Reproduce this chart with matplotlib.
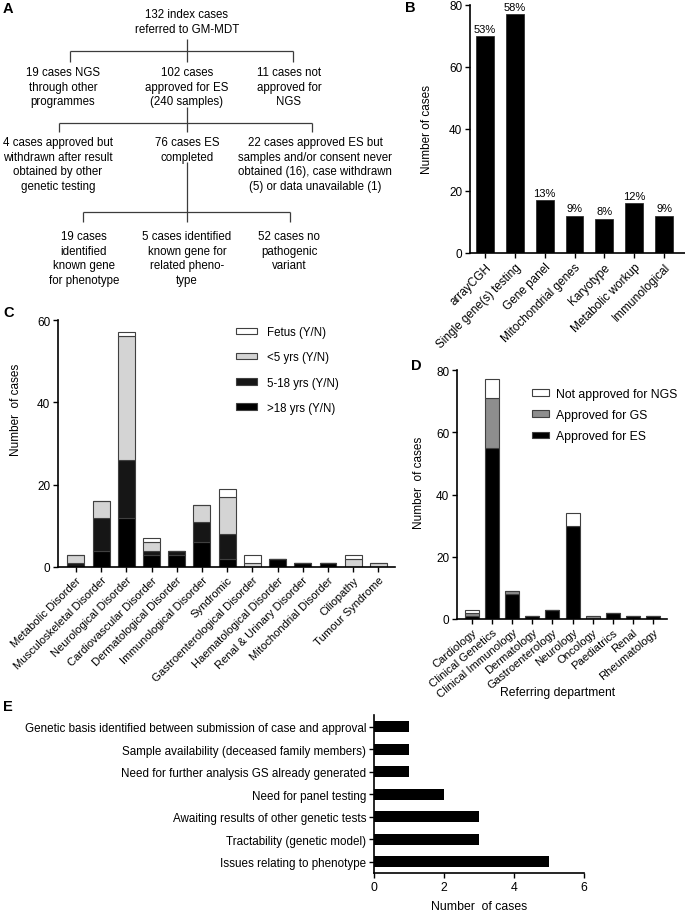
import matplotlib

matplotlib.use("Agg")

import matplotlib.pyplot as plt
import numpy as np

plt.rcParams["font.family"] = ["Liberation Sans", "DejaVu Sans"]
plt.rcParams["font.size"] = 8
plt.rcParams["axes.linewidth"] = 1.2
plt.rcParams["xtick.major.width"] = 1.0
plt.rcParams["ytick.major.width"] = 1.0
plt.rcParams["xtick.major.size"] = 3.5
plt.rcParams["ytick.major.size"] = 3.5

W, H = 685, 912

# B: previous genetic testing
prior_tests = ["arrayCGH", "Single gene(s) testing", "Gene panel", "Mitochondrial genes",
               "Karyotype", "Metabolic workup", "Immunological"]
prior_counts = [70, 77, 17, 12, 11, 16, 12]
prior_pct = ["53%", "58%", "13%", "9%", "8%", "12%", "9%"]

# C: disorder category by age group
disorders = ["Metabolic Disorder", "Musculoskeletal Disorder", "Neurological Disorder",
             "Cardiovascular Disorder", "Dermatological Disorder", "Immunological Disorder",
             "Syndromic", "Gastroenterological Disorder", "Haematological Disorder",
             "Renal & Urinary Disorder", "Mitochondrial Disorder", "Ciliopathy", "Tumour Syndrome"]
over18 = [0, 4, 12, 3, 3, 6, 2, 0, 2, 1, 1, 0, 0]
age5to18 = [1, 8, 14, 1, 1, 5, 6, 0, 0, 0, 0, 0, 0]
under5 = [2, 4, 30, 2, 0, 4, 9, 1, 0, 0, 0, 2, 1]
fetus = [0, 0, 1, 1, 0, 0, 2, 2, 0, 0, 0, 1, 0]

# D: referring department
departments = ["Cardiology", "Clinical Genetics", "Clinical Immunology", "Dermatology",
               "Gastroenterology", "Neurology", "Oncology", "Paediatrics", "Renal", "Rheumatology"]
approved_es = [1, 55, 8, 1, 3, 30, 0, 2, 1, 1]
approved_gs = [1, 16, 1, 0, 0, 0, 1, 0, 0, 0]
not_approved = [1, 6, 0, 0, 0, 4, 0, 0, 0, 0]

# E: reasons for not approving
reasons = ["Genetic basis identified between submission of case and approval",
           "Sample availability (deceased family members)",
           "Need for further analysis GS already generated",
           "Need for panel testing",
           "Awaiting results of other genetic tests",
           "Tractability (genetic model)",
           "Issues relating to phenotype"]
reason_counts = [1, 1, 1, 2, 3, 3, 5]


def rect(x0, y0, x1, y1):
    return [x0 / W, 1 - y1 / H, (x1 - x0) / W, (y1 - y0) / H]


def style(ax, xsize=8.5):
    ax.spines["top"].set_visible(False)
    ax.spines["right"].set_visible(False)
    ax.tick_params(axis="y", labelsize=8.5, pad=2)
    ax.tick_params(axis="x", labelsize=xsize, pad=2)


fig = plt.figure(figsize=(W / 100, H / 100), dpi=100)

# A: flowchart drawn in pixel coordinates
fa = fig.add_axes([0, 0, 1, 1])
fa.set_xlim(0, W)
fa.set_ylim(H, 0)
fa.axis("off")

lc = "#3c3c3c"


def seg(x0, y0, x1, y1):
    fa.plot([x0, x1], [y0, y1], color=lc, lw=0.9, solid_capstyle="butt")


def box(x, y, txt):
    fa.text(x, y, txt, ha="center", va="top", fontsize=8.3, linespacing=1.28)


box(187, 9, "132 index cases\nreferred to GM-MDT")
seg(187, 40, 187, 52)
seg(70, 52, 293, 52)
for xx in (70, 187, 293):
    seg(xx, 52, xx, 63)
box(63, 67, "19 cases NGS\nthrough other\nprogrammes")
box(187, 67, "102 cases\napproved for ES\n(240 samples)")
box(289, 67, "11 cases not\napproved for\nNGS")
seg(187, 108, 187, 124)
seg(59, 124, 312, 124)
for xx in (59, 187, 312):
    seg(xx, 124, xx, 133)
box(58, 137, "4 cases approved but\nwithdrawn after result\nobtained by other\ngenetic testing")
box(187, 137, "76 cases ES\ncompleted")
box(315, 137, "22 cases approved ES but\nsamples and/or consent never\nobtained (16), case withdrawn\n(5) or data unavailable (1)")
seg(187, 163, 187, 213)
seg(83, 213, 290, 213)
for xx in (83, 187, 290):
    seg(xx, 213, xx, 223)
box(84, 231, "19 cases\nidentified\nknown gene\nfor phenotype")
box(187, 231, "5 cases identified\nknown gene for\nrelated pheno-\ntype")
box(289, 231, "52 cases no\npathogenic\nvariant")

for lab, x, y in [("A", 3, 2), ("B", 405, 1), ("C", 3, 306), ("D", 411, 359), ("E", 3, 700)]:
    fa.text(x, y, lab, fontsize=10.5, fontweight="bold", va="top", ha="left")

# B
axb = fig.add_axes(rect(470, 6, 685, 254))
xb = np.arange(len(prior_tests))
axb.bar(xb, prior_counts, width=0.6, color="black", edgecolor="#303030", lw=0.6)
for x, v, p in zip(xb, prior_counts, prior_pct):
    axb.text(x, v + 0.8, p, ha="center", va="bottom", fontsize=8)
axb.set_xlim(-0.5, 6.7)
axb.set_ylim(0, 80)
axb.set_yticks([0, 20, 40, 60, 80])
axb.set_xticks(xb)
axb.set_xticklabels(prior_tests, rotation=45, ha="right", rotation_mode="anchor")
axb.set_ylabel("Number of cases", fontsize=8.5)
axb.yaxis.set_label_coords(-0.17, 0.5)
style(axb)

# C
axc = fig.add_axes(rect(58, 321, 395, 568))
xc = np.arange(len(disorders))
ec = "#404040"
b1 = np.array(over18)
b2 = b1 + np.array(age5to18)
b3 = b2 + np.array(under5)
axc.bar(xc, over18, width=0.67, color="#000000", edgecolor=ec, lw=0.8, label=">18 yrs (Y/N)")
axc.bar(xc, age5to18, bottom=b1, width=0.67, color="#161616", edgecolor=ec, lw=0.8, label="5-18 yrs (Y/N)")
axc.bar(xc, under5, bottom=b2, width=0.67, color="#d4d4d4", edgecolor=ec, lw=0.8, label="<5 yrs (Y/N)")
axc.bar(xc, fetus, bottom=b3, width=0.67, color="#ffffff", edgecolor=ec, lw=0.8, label="Fetus (Y/N)")
axc.set_xlim(-0.71, 12.66)
axc.set_ylim(0, 60)
axc.set_yticks([0, 20, 40, 60])
axc.set_xticks(xc)
axc.set_xticklabels(disorders, rotation=45, ha="right", rotation_mode="anchor")
axc.set_ylabel("Number  of cases", fontsize=8.5)
axc.yaxis.set_label_coords(-0.107, 0.64)
style(axc, xsize=8.1)
h, l = axc.get_legend_handles_labels()
axc.legend(h[::-1], l[::-1], loc="upper left", bbox_to_anchor=(236 / W, 1 - 327 / H),
           bbox_transform=fig.transFigure, frameon=False, fontsize=8.3,
           handlelength=1.8, handleheight=0.5, handletextpad=0.85, labelspacing=1.15,
           borderpad=0, borderaxespad=0)

# D
axd = fig.add_axes(rect(457, 371, 667, 620))
xd = np.arange(len(departments))
d1 = np.array(approved_es)
d2 = d1 + np.array(approved_gs)
axd.bar(xd, approved_es, width=0.7, color="#000000", edgecolor=ec, lw=0.8, label="Approved for ES")
axd.bar(xd, approved_gs, bottom=d1, width=0.7, color="#8e8e8e", edgecolor=ec, lw=0.8, label="Approved for GS")
axd.bar(xd, not_approved, bottom=d2, width=0.7, color="#ffffff", edgecolor=ec, lw=0.8, label="Not approved for NGS")
axd.set_xlim(-0.75, 9.7)
axd.set_ylim(0, 80)
axd.set_yticks([0, 20, 40, 60, 80])
axd.set_xticks(xd)
axd.set_xticklabels(departments, rotation=40, ha="right", rotation_mode="anchor")
axd.set_ylabel("Number  of cases", fontsize=8.5)
axd.yaxis.set_label_coords(-0.152, 0.55)
axd.set_xlabel("Referring department", fontsize=8.7)
axd.xaxis.set_label_coords(0.48, -0.27)
style(axd, xsize=8.1)
h, l = axd.get_legend_handles_labels()
axd.legend(h[::-1], l[::-1], loc="upper left", bbox_to_anchor=(532 / W, 1 - 389 / H),
           bbox_transform=fig.transFigure, frameon=False, fontsize=8.8,
           handlelength=1.35, handleheight=0.5, handletextpad=0.6, labelspacing=0.75,
           borderpad=0, borderaxespad=0)

# E
axe = fig.add_axes(rect(374, 716, 584, 874))
ye = np.arange(len(reasons))
axe.barh(ye, reason_counts, height=0.49, color="black")
axe.set_ylim(6.49, -0.53)
axe.set_xlim(0, 6)
axe.set_xticks([0, 2, 4, 6])
axe.set_yticks(ye)
axe.set_yticklabels(reasons)
axe.set_xlabel("Number  of cases", fontsize=8.8, labelpad=5)
style(axe)
axe.tick_params(axis="y", labelsize=8.4)
axe.tick_params(axis="x", labelsize=8.8)

fig.savefig("out.png", dpi=100)
